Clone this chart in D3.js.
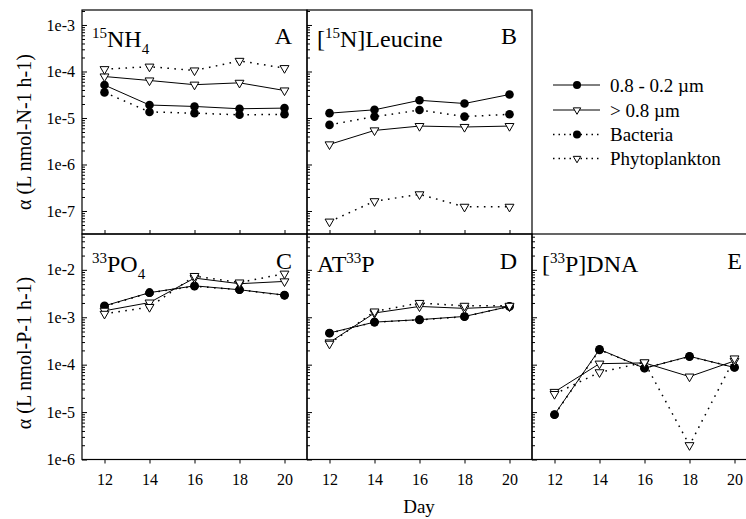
<!DOCTYPE html>
<html>
<head>
<meta charset="utf-8">
<script src="https://cdn.jsdelivr.net/npm/d3@7"></script>
<style>
  html, body { margin: 0; padding: 0; background: #fff; }
  svg { display: block; font-family: "Liberation Serif", "Times New Roman", serif; }
  svg text { font-family: "Liberation Serif", "Times New Roman", serif; }
</style>
</head>
<body>
<svg id="chart" width="746" height="519"></svg>
<script>
// ---------------- data ----------------
const days = [12, 14, 16, 18, 20];
const seriesLabels = ["0.8 - 0.2 \u00b5m", "> 0.8 \u00b5m", "Bacteria", "Phytoplankton"];
const yTickValuesN = [1e-3, 1e-4, 1e-5, 1e-6, 1e-7];
const yTickValuesP = [1e-2, 1e-3, 1e-4, 1e-5, 1e-6];
const yLabelN = "\u03b1 (L nmol-N-1 h-1)";
const yLabelP = "\u03b1 (L nmol-P-1 h-1)";
const xLabel = "Day";
const panelLetters = ["A", "B", "C", "D", "E"];

// A: 15NH4
const nh4Small = [5.1e-5, 1.9e-5, 1.77e-5, 1.58e-5, 1.63e-5];
const nh4Large = [7.8e-5, 6.4e-5, 5.2e-5, 5.7e-5, 3.9e-5];
const nh4Bact  = [3.55e-5, 1.35e-5, 1.27e-5, 1.17e-5, 1.2e-5];
const nh4Phyto = [1.12e-4, 1.27e-4, 1.05e-4, 1.69e-4, 1.18e-4];
// B: [15N]Leucine
const leuSmall = [1.27e-5, 1.5e-5, 2.4e-5, 2.05e-5, 3.2e-5];
const leuLarge = [2.7e-6, 5.4e-6, 6.7e-6, 6.4e-6, 6.7e-6];
const leuBact  = [7.1e-6, 1.07e-5, 1.48e-5, 1.07e-5, 1.2e-5];
const leuPhyto = [5.9e-8, 1.62e-7, 2.28e-7, 1.23e-7, 1.23e-7];
// C: 33PO4
const po4Small = [1.74e-3, 3.3e-3, 4.6e-3, 3.8e-3, 2.93e-3];
const po4Large = [1.37e-3, 2.04e-3, 6.7e-3, 5.1e-3, 5.7e-3];
const po4Bact  = [1.7e-3, 3.3e-3, 4.5e-3, 3.8e-3, 2.9e-3];
const po4Phyto = [1.18e-3, 1.64e-3, 7.4e-3, 5.4e-3, 8.3e-3];
// D: AT33P
const atpSmall = [4.66e-4, 7.9e-4, 8.9e-4, 1.04e-3, 1.69e-3];
const atpLarge = [2.94e-4, 1.23e-3, 1.69e-3, 1.54e-3, 1.69e-3];
const atpBact  = [4.6e-4, 7.9e-4, 8.8e-4, 1.03e-3, 1.7e-3];
const atpPhyto = [2.76e-4, 1.32e-3, 2.0e-3, 1.74e-3, 1.74e-3];
// E: [33P]DNA
const dnaSmall = [8.9e-6, 2.1e-4, 8.4e-5, 1.5e-4, 8.7e-5];
const dnaLarge = [2.66e-5, 1.05e-4, 1.09e-4, 5.6e-5, 1.2e-4];
const dnaBact  = [8.8e-6, 2.05e-4, 8.5e-5, 1.48e-4, 8.8e-5];
const dnaPhyto = [2.4e-5, 6.9e-5, 1.12e-4, 2.0e-6, 1.35e-4];

// ---------------- layout ----------------
const FONT = "Liberation Serif, Times New Roman, serif";
const svg = d3.select("#chart");
const colX = [82, 307, 532, 757];
const rowTop = { top: 10, bottom: 234 };
const rowBot = { top: 234, bottom: 459.5 };

const yN = d3.scaleLog().domain([3.2e-8, 2.1e-3]).range([rowTop.bottom, rowTop.top]);
const yP = d3.scaleLog().domain([1e-6, 0.057]).range([rowBot.bottom, rowBot.top]);

const panels = [
  { letter: panelLetters[0], col: 0, row: "top", y: yN, ticks: yTickValuesN, labels: true,
    title: [["15", "sup"], ["NH", "n"], ["4", "sub"]], data: [nh4Small, nh4Large, nh4Bact, nh4Phyto] },
  { letter: panelLetters[1], col: 1, row: "top", y: yN, ticks: yTickValuesN, labels: false,
    title: [["[", "n"], ["15", "sup"], ["N]Leucine", "n"]], data: [leuSmall, leuLarge, leuBact, leuPhyto] },
  { letter: panelLetters[2], col: 0, row: "bot", y: yP, ticks: yTickValuesP, labels: true,
    title: [["33", "sup"], ["PO", "n"], ["4", "sub"]], data: [po4Small, po4Large, po4Bact, po4Phyto] },
  { letter: panelLetters[3], col: 1, row: "bot", y: yP, ticks: yTickValuesP, labels: false,
    title: [["AT", "n"], ["33", "sup"], ["P", "n"]], data: [atpSmall, atpLarge, atpBact, atpPhyto] },
  { letter: panelLetters[4], col: 2, row: "bot", y: yP, ticks: yTickValuesP, labels: false,
    title: [["[", "n"], ["33", "sup"], ["P]DNA", "n"]], data: [dnaSmall, dnaLarge, dnaBact, dnaPhyto] }
];

const styles = [
  { dash: null, marker: "circle" },
  { dash: null, marker: "tri" },
  { dash: "1.6,5.4", marker: "circle" },
  { dash: "1.6,5.4", marker: "tri" }
];

const triSym = d3.symbol().type(d3.symbolTriangle).size(34);
const triSymLegend = d3.symbol().type(d3.symbolTriangle).size(24);

function fmt(v) { return "1e" + Math.round(Math.log10(v)); }

function minorTicks(scale) {
  const [d0, d1] = scale.domain();
  const out = [];
  for (let e = Math.floor(Math.log10(d0)); e <= Math.ceil(Math.log10(d1)); e++) {
    for (let m = 2; m <= 9; m++) {
      const v = m * Math.pow(10, e);
      if (v >= d0 && v <= d1) out.push(v);
    }
  }
  return out;
}

panels.forEach(p => {
  const x0 = colX[p.col], x1 = colX[p.col + 1];
  const rr = p.row === "top" ? rowTop : rowBot;
  const x = d3.scaleLinear().domain([11, 21]).range([x0, x1]);
  const y = p.y;
  const g = svg.append("g");

  // frame
  g.append("rect").attr("x", x0).attr("y", rr.top).attr("width", x1 - x0).attr("height", rr.bottom - rr.top)
    .attr("fill", "none").attr("stroke", "#000").attr("stroke-width", 1.2);

  // y ticks (inward)
  const yMaj = g.append("g").attr("transform", `translate(${x0},0)`)
    .call(d3.axisRight(y).tickValues(p.ticks).tickSize(5).tickFormat(""));
  const yMin = g.append("g").attr("transform", `translate(${x0},0)`)
    .call(d3.axisRight(y).tickValues(minorTicks(y)).tickSize(3).tickFormat(""));
  [yMaj, yMin].forEach(a => { a.select(".domain").remove(); a.selectAll("line").attr("stroke", "#000").attr("stroke-width", 1); });

  if (p.labels) {
    const yl = g.append("g").attr("transform", `translate(${x0},0)`)
      .call(d3.axisLeft(y).tickValues(p.ticks).tickSize(0).tickPadding(7).tickFormat(fmt));
    yl.attr("font-family", FONT);
    yl.select(".domain").remove();
    yl.selectAll("text").attr("font-size", 16).attr("font-family", FONT).attr("fill", "#000");
  }

  // x ticks
  if (p.row === "top") {
    const xa = g.append("g").attr("transform", `translate(0,${rr.bottom})`)
      .call(d3.axisTop(x).tickValues(days).tickSize(4).tickFormat(""));
    xa.select(".domain").remove();
    xa.selectAll("line").attr("stroke", "#000");
  } else {
    const xa = g.append("g").attr("transform", `translate(0,${rr.bottom})`)
      .call(d3.axisBottom(x).tickValues(days).tickSize(4).tickPadding(10));
    xa.attr("font-family", FONT);
    xa.select(".domain").remove();
    xa.selectAll("line").attr("stroke", "#000");
    xa.selectAll("text").attr("font-size", 16).attr("font-family", FONT).attr("fill", "#000");
  }

  // lines
  const line = d3.line().x((d, i) => x(days[i])).y(d => y(d));
  p.data.forEach((vals, si) => {
    const st = styles[si];
    g.append("path").attr("d", line(vals)).attr("fill", "none").attr("stroke", "#000")
      .attr("stroke-width", st.dash ? 1.5 : 1)
      .attr("stroke-dasharray", st.dash);
  });
  // markers: circles then triangles
  [0, 2, 1, 3].forEach(si => {
    const st = styles[si];
    const vals = p.data[si];
    vals.forEach((v, i) => {
      if (st.marker === "circle") {
        g.append("circle").attr("cx", x(days[i])).attr("cy", y(v)).attr("r", 4.3).attr("fill", "#000");
      } else {
        g.append("path").attr("d", triSym()).attr("transform", `translate(${x(days[i])},${y(v)}) rotate(180)`)
          .attr("fill", "#fff").attr("stroke", "#000").attr("stroke-width", 1);
      }
    });
  });

  // title
  const baseY = p.row === "top" ? 47 : 272;
  const t = g.append("text").attr("x", x0 + 10).attr("y", baseY).attr("font-size", 24)
    .attr("font-family", FONT).attr("fill", "#000");
  let shift = 0;
  p.title.forEach(([txt, kind]) => {
    let target = kind === "sup" ? -9 : kind === "sub" ? 7 : 0;
    t.append("tspan").attr("dy", target - shift).attr("font-size", kind === "n" ? 24 : 15).text(txt);
    shift = target;
  });
  g.append("text").attr("x", x1 - 15).attr("y", p.row === "top" ? 44 : 269).attr("text-anchor", "end")
    .attr("font-size", 24).attr("font-family", FONT).attr("fill", "#000").text(p.letter);
});

// axis labels
svg.append("text").attr("transform", "translate(31,132) rotate(-90)").attr("text-anchor", "middle")
  .attr("font-size", 20).attr("font-family", FONT).text(yLabelN);
svg.append("text").attr("transform", "translate(31,353) rotate(-90)").attr("text-anchor", "middle")
  .attr("font-size", 20).attr("font-family", FONT).text(yLabelP);
svg.append("text").attr("x", 419).attr("y", 513).attr("text-anchor", "middle")
  .attr("font-size", 19).attr("font-family", FONT).text(xLabel);

// legend
const legY = [85, 110, 134.5, 158.5];
const lg = svg.append("g");
seriesLabels.forEach((lab, i) => {
  const st = styles[i];
  lg.append("line").attr("x1", 553).attr("x2", 600).attr("y1", legY[i]).attr("y2", legY[i])
    .attr("stroke", "#000").attr("stroke-width", st.dash ? 1.3 : 1).attr("stroke-dasharray", st.dash ? "1.5,4" : null);
  if (st.marker === "circle") {
    lg.append("circle").attr("cx", 577).attr("cy", legY[i]).attr("r", 4).attr("fill", "#000");
  } else {
    lg.append("path").attr("d", triSymLegend()).attr("transform", `translate(577,${legY[i]}) rotate(180)`)
      .attr("fill", "#fff").attr("stroke", "#000");
  }
  lg.append("text").attr("x", 610).attr("y", legY[i]).attr("dy", "0.35em").attr("font-size", 19)
    .attr("font-family", FONT).text(lab);
});
</script>
</body>
</html>
